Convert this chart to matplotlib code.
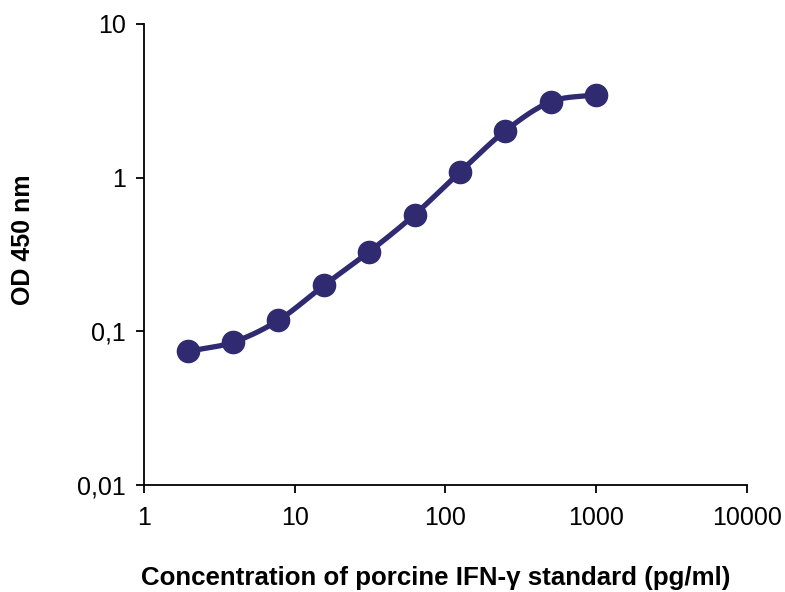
import numpy as np
import matplotlib
matplotlib.use("Agg")
import matplotlib.pyplot as plt

plt.rcParams['font.family'] = ['Liberation Sans', 'DejaVu Sans']

concentration = [1.95, 3.9, 7.8, 15.6, 31.25, 62.5, 125, 250, 500, 1000]
od450 = [0.074, 0.085, 0.118, 0.199, 0.330, 0.575, 1.09, 2.02, 3.12, 3.46]
xticks = [1, 10, 100, 1000, 10000]
xticklabels = ['1', '10', '100', '1000', '10000']
yticks = [0.01, 0.1, 1, 10]
yticklabels = ['0,01', '0,1', '1', '10']

color = '#302B70'


def catmull_rom(x, y, n=30):
    # smoothing in log space (rendering only)
    px = np.log10(x)
    py = np.log10(y)
    P = np.column_stack([px, py])
    P = np.vstack([P[0] - (P[1] - P[0]), P, P[-1] + (P[-1] - P[-2])])
    out = []
    for i in range(1, len(P) - 2):
        p0, p1, p2, p3 = P[i - 1], P[i], P[i + 1], P[i + 2]
        t = np.linspace(0, 1, n, endpoint=False)[:, None]
        seg = 0.5 * ((2 * p1) + (-p0 + p2) * t + (2 * p0 - 5 * p1 + 4 * p2 - p3) * t ** 2
                     + (-p0 + 3 * p1 - 3 * p2 + p3) * t ** 3)
        out.append(seg)
    out.append(P[-2][None, :])
    out = np.vstack(out)
    return 10 ** out[:, 0], 10 ** out[:, 1]


fig = plt.figure(figsize=(7.85, 5.92), dpi=100)
ax = fig.add_axes([0.1834, 0.1807, 0.9516 - 0.1834, 0.9595 - 0.1807])

sx, sy = catmull_rom(concentration, od450)
ax.plot(sx, sy, color=color, lw=3.8, solid_capstyle='round', zorder=2)
ax.plot(concentration, od450, 'o', color=color, ms=16, zorder=3)

ax.set_xscale('log')
ax.set_yscale('log')
ax.set_xlim(1, 10000)
ax.set_ylim(0.01, 10)
ax.set_xticks(xticks)
ax.set_xticklabels(xticklabels)
ax.set_yticks(yticks)
ax.set_yticklabels(yticklabels)
ax.minorticks_off()
ax.tick_params(axis='both', direction='out', length=6, width=1.3, labelsize=18, pad=9)
ax.tick_params(axis='y', pad=7)
ax.spines['top'].set_visible(False)
ax.spines['right'].set_visible(False)
for s in ['left', 'bottom']:
    ax.spines[s].set_linewidth(1.3)

ax.set_xlabel('Concentration of porcine IFN-γ standard (pg/ml)', fontsize=18.6, fontweight='bold')
ax.set_ylabel('OD 450 nm', fontsize=18, fontweight='bold')
ax.xaxis.set_label_coords(0.484, -0.175)
ax.yaxis.set_label_coords(-0.18, 0.531)

fig.savefig('out.png', dpi=100)
